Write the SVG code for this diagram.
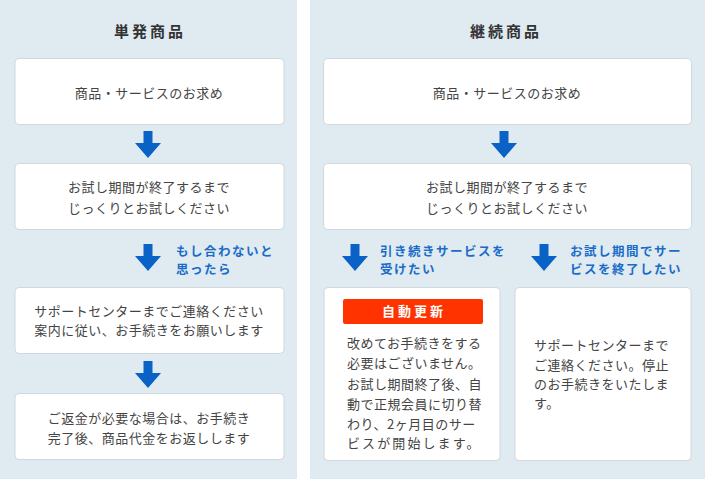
<svg xmlns="http://www.w3.org/2000/svg" width="705" height="479" viewBox="0 0 705 479">
<defs>
<style>
.panel{fill:#dfeaf1}
.box{fill:#fff;stroke:#cfd8de;stroke-width:1}
.t{font-family:"Noto Sans CJK JP","Noto Sans",sans-serif;font-size:13px;fill:#444;letter-spacing:0.5px}
.c{text-anchor:middle}
.title{font-family:"Noto Sans CJK JP","Noto Sans",sans-serif;font-size:15px;font-weight:bold;fill:#333;letter-spacing:3px;text-anchor:middle}
.lab{font-family:"Noto Sans CJK JP","Noto Sans",sans-serif;font-size:12.5px;font-weight:bold;fill:#1a6cc8;letter-spacing:1.5px}
.arr{fill:#0a62c6}
.badge{font-family:"Noto Sans CJK JP","Noto Sans",sans-serif;font-size:13px;font-weight:bold;fill:#fff;letter-spacing:3px;text-anchor:middle}
</style>
<path id="a" d="M-4.5,0 H4.5 V12 H13 L0,27 L-13,12 H-4.5 Z"/>
</defs>
<rect class="panel" x="0" y="0" width="297" height="479"/>
<rect class="panel" x="310" y="0" width="395" height="479"/>
<text class="title" x="150" y="37">単発商品</text>
<text class="title" x="506" y="37">継続商品</text>

<g id="connectors">
<use href="#a" class="arr" x="148" y="131"/>
<use href="#a" class="arr" x="148" y="244"/>
<use href="#a" class="arr" x="148" y="361"/>
<use href="#a" class="arr" x="504" y="131"/>
<use href="#a" class="arr" x="355" y="244"/>
<use href="#a" class="arr" x="544" y="244"/>
<text class="lab" x="176" y="255.5">もし合わないと</text>
<text class="lab" x="176" y="273.8">思ったら</text>
<text class="lab" x="380" y="255.5">引き続きサービスを</text>
<text class="lab" x="380" y="273.8">受けたい</text>
<text class="lab" x="570" y="255.5">お試し期間でサー</text>
<text class="lab" x="570" y="273.8">ビスを終了したい</text>
</g>

<g id="s1">
<rect class="box" x="15" y="58.5" width="269" height="66" rx="4"/>
<text class="t c" x="149" y="97.5">商品・サービスのお求め</text>
</g>
<g id="s2">
<rect class="box" x="15" y="163.5" width="269" height="66" rx="4"/>
<text class="t c" x="149" y="191.5">お試し期間が終了するまで</text>
<text class="t c" x="149" y="212.5">じっくりとお試しください</text>
</g>
<g id="s3">
<rect class="box" x="15" y="287.5" width="269" height="66" rx="4"/>
<text class="t c" x="149" y="315.5">サポートセンターまでご連絡ください</text>
<text class="t c" x="149" y="334.5">案内に従い、お手続きをお願いします</text>
</g>
<g id="s4">
<rect class="box" x="15" y="393.5" width="269" height="66" rx="4"/>
<text class="t c" x="149" y="422.5">ご返金が必要な場合は、お手続き</text>
<text class="t c" x="149" y="442.5">完了後、商品代金をお返しします</text>
</g>

<g id="c1">
<rect class="box" x="323.5" y="58.5" width="368" height="66" rx="4"/>
<text class="t c" x="507" y="97.5">商品・サービスのお求め</text>
</g>
<g id="c2">
<rect class="box" x="323.5" y="163.5" width="368" height="66" rx="4"/>
<text class="t c" x="507" y="191.5">お試し期間が終了するまで</text>
<text class="t c" x="507" y="212.5">じっくりとお試しください</text>
</g>
<g id="c3">
<rect class="box" x="324" y="287.5" width="176" height="173" rx="4"/>
<rect x="343" y="299" width="140" height="25" rx="2" fill="#ff3300"/>
<text class="badge" x="414" y="316">自動更新</text>
<text class="t" x="347" y="347.5">改めてお手続きをする</text>
<text class="t" x="347" y="368">必要はございません。</text>
<text class="t" x="347" y="388.5">お試し期間終了後、自</text>
<text class="t" x="347" y="409">動で正規会員に切り替</text>
<text class="t" x="347" y="429">わり、2ヶ月目のサー</text>
<text class="t" x="347" y="448" textLength="133" lengthAdjust="spacing">ビスが開始します。</text>
</g>
<g id="c4">
<rect class="box" x="515" y="287.5" width="176" height="173" rx="4"/>
<text class="t" x="534" y="349.5">サポートセンターまで</text>
<text class="t" x="534" y="369.5">ご連絡ください。停止</text>
<text class="t" x="534" y="388.5">のお手続きをいたしま</text>
<text class="t" x="534" y="408">す。</text>
</g>
</svg>
